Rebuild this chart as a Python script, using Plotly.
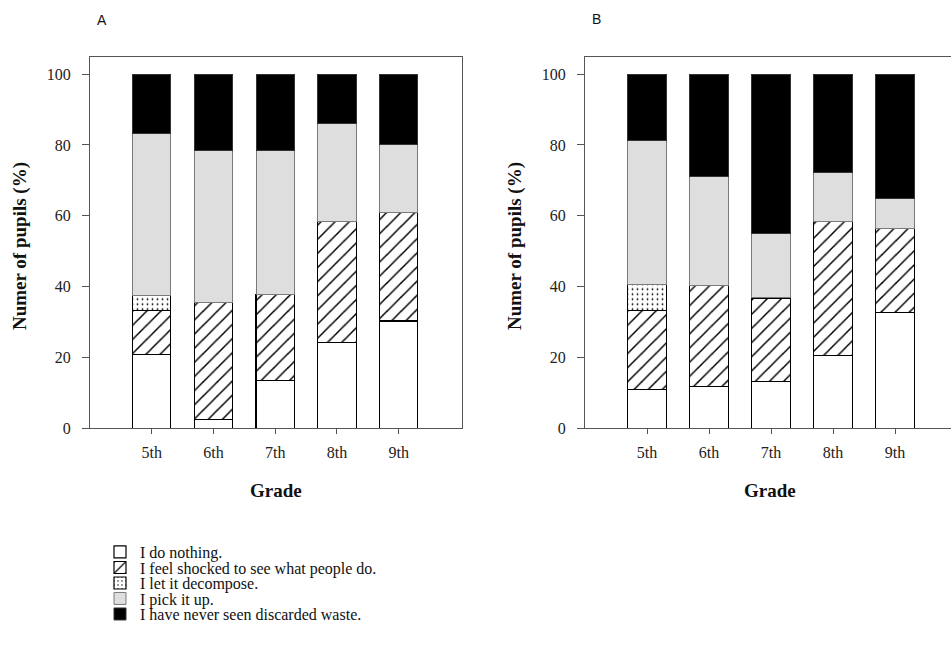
import plotly.graph_objects as go

grades = ["5th", "6th", "7th", "8th", "9th"]
series_names = [
    "I do nothing.",
    "I feel shocked to see what people do.",
    "I let it decompose.",
    "I pick it up.",
    "I have never seen discarded waste.",
]

# Panel A values (% of pupils)
a_nothing = [20.9, 2.4, 13.5, 24.2, 30.3]
a_shocked = [12.3, 33.2, 24.3, 34.3, 30.6]
a_decompose = [4.2, 0, 0, 0, 0]
a_pickup = [45.8, 42.8, 40.5, 27.6, 19.3]
a_never = [16.8, 21.6, 21.7, 13.9, 19.8]

# Panel B values (% of pupils)
b_nothing = [11.0, 11.9, 13.2, 20.6, 32.6]
b_shocked = [22.2, 28.5, 23.6, 37.9, 23.8]
b_decompose = [7.5, 0, 0, 0, 0]
b_pickup = [40.6, 30.7, 18.2, 13.7, 8.5]
b_never = [18.7, 28.9, 45.0, 27.8, 35.1]

y_ticks = [0, 20, 40, 60, 80, 100]

W, H = 951, 649
VS = 1 / 0.986  # vertical calibration of the capture
SERIF = "Liberation Serif, Times New Roman, serif"
SANS = "Liberation Sans, Arial, sans-serif"

styles = [
    dict(color="white", pattern=dict(shape="", fgcolor="black", bgcolor="white"), line=dict(color="black", width=1.2)),
    dict(color="white", pattern=dict(shape="/", fgcolor="black", bgcolor="white", size=10, solidity=0.15, fillmode="replace"), line=dict(color="black", width=1.2)),
    dict(color="white", pattern=dict(shape=".", fgcolor="black", bgcolor="white", size=5, solidity=0.1, fillmode="replace"), line=dict(color="black", width=1.2)),
    dict(color="#dedede", pattern=dict(shape="", fgcolor="#dedede", bgcolor="#dedede"), line=dict(color="#7a7a7a", width=1.0)),
    dict(color="black", pattern=dict(shape="", fgcolor="black", bgcolor="black"), line=dict(color="#333333", width=1.0)),
]
legend_ids = ["legend", "legend2", "legend3", "legend4", "legend5"]

fig = go.Figure()
panelA = [a_nothing, a_shocked, a_decompose, a_pickup, a_never]
panelB = [b_nothing, b_shocked, b_decompose, b_pickup, b_never]

for i, (name, vals) in enumerate(zip(series_names, panelA)):
    fig.add_trace(go.Bar(
        x=grades, y=vals, name=name, width=0.62, marker=styles[i],
        xaxis="x", yaxis="y", legendgroup=name, showlegend=True, legend=legend_ids[i],
    ))
for i, (name, vals) in enumerate(zip(series_names, panelB)):
    fig.add_trace(go.Bar(
        x=grades, y=vals, name=name, width=0.62, marker=styles[i],
        xaxis="x2", yaxis="y2", legendgroup=name, showlegend=False, legend=legend_ids[i],
    ))

def px_x(p):
    return p / W

def px_y(p):
    return 1 - (p * VS) / H

y_dom = [px_y(428.3), px_y(56.7)]
axis_common = dict(
    showgrid=False, zeroline=False, showline=True, linecolor="#555555", linewidth=1,
    tickcolor="#555555", tickwidth=1, ticks="outside",
    tickfont=dict(family=SERIF, size=16, color="#222222"),
)

legend_rows = [552, 567.5, 583, 598.5, 614]
legends = {}
for lid, row in zip(legend_ids, legend_rows):
    legends[lid] = dict(
        x=px_x(100), y=px_y(row), xanchor="left", yanchor="middle",
        font=dict(family=SERIF, size=16, color="#111111"),
        bgcolor="rgba(0,0,0,0)", borderwidth=0,
    )

fig.update_layout(
    width=W, height=H,
    margin=dict(l=0, r=0, t=0, b=0),
    paper_bgcolor="white", plot_bgcolor="white",
    barmode="stack", hovermode=False,
    xaxis=dict(domain=[px_x(90), px_x(461.7)], range=[-1, 5.02], ticklen=5,
               ticklabelstandoff=4, mirror=True, anchor="y", **axis_common),
    yaxis=dict(domain=y_dom, range=[0, 104.9], tickvals=y_ticks, ticklen=7,
               ticklabelstandoff=8, mirror=True, anchor="x", **axis_common),
    xaxis2=dict(domain=[px_x(585), 1], range=[-1, 4.903], ticklen=5,
                ticklabelstandoff=4, mirror=True, anchor="y2", **axis_common),
    yaxis2=dict(domain=y_dom, range=[0, 104.9], tickvals=y_ticks, ticklen=7,
                ticklabelstandoff=8, mirror=False, anchor="x2", **axis_common),
    showlegend=True,
    **legends,
)

annots = [
    dict(text="A", x=px_x(101.5), y=px_y(20), font=dict(family=SANS, size=14, color="#111")),
    dict(text="B", x=px_x(596), y=px_y(19), font=dict(family=SANS, size=14, color="#111")),
    dict(text="<b>Grade</b>", x=px_x(276), y=px_y(490), font=dict(family=SERIF, size=19, color="#111")),
    dict(text="<b>Grade</b>", x=px_x(770), y=px_y(490), font=dict(family=SERIF, size=19, color="#111")),
    dict(text="<b>Numer of pupils (%)</b>", x=px_x(20), y=px_y(246), textangle=-90,
         font=dict(family=SERIF, size=19, color="#111")),
    dict(text="<b>Numer of pupils (%)</b>", x=px_x(515), y=px_y(246), textangle=-90,
         font=dict(family=SERIF, size=19, color="#111")),
]
for a in annots:
    fig.add_annotation(xref="paper", yref="paper", showarrow=False,
                       xanchor="center", yanchor="middle", **a)

fig.write_html(
    "out.html",
    config={"displayModeBar": False, "staticPlot": True},
    post_script="document.body.style.margin='0';document.body.style.overflow='hidden';",
)
